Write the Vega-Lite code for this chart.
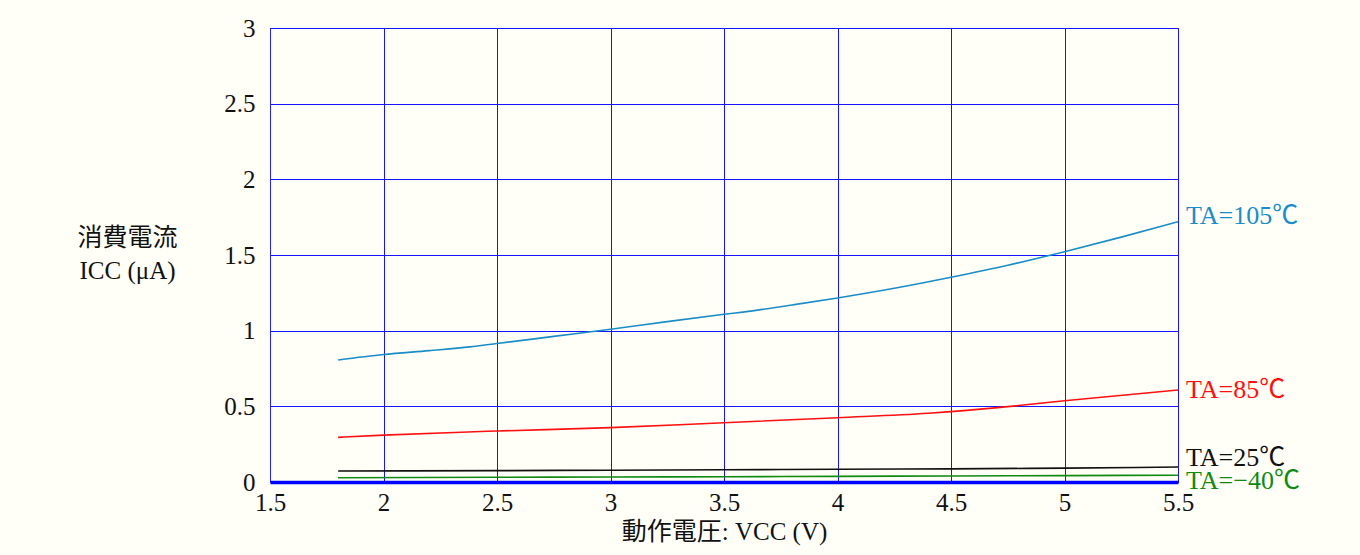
{
  "$schema": "https://vega.github.io/schema/vega-lite/v6.json",
  "width": 908,
  "height": 454,
  "autosize": {"type": "none"},
  "padding": {"left": 270, "top": 28, "right": 182, "bottom": 73},
  "background": "#FFFFF7",
  "config": {
    "font": "Liberation Serif, 'Noto Sans CJK JP', serif",
    "view": {"stroke": "#2222FF", "strokeWidth": 1},
    "axis": {
      "labelFont": "Liberation Serif, 'Noto Sans CJK JP', serif",
      "titleFont": "Liberation Serif, 'Noto Sans CJK JP', serif",
      "labelFontSize": 25,
      "titleFontSize": 25,
      "labelColor": "#111111",
      "titleColor": "#111111",
      "titleFontWeight": "normal",
      "ticks": false,
      "gridColor": "#1515FF",
      "gridWidth": 1,
      "gridOpacity": 1
    }
  },
  "datasets": {
    "curves": [
      {"series": "TA=105℃", "v": 1.8, "i": 0.806},
      {"series": "TA=105℃", "v": 2.0, "i": 0.842},
      {"series": "TA=105℃", "v": 2.2, "i": 0.868},
      {"series": "TA=105℃", "v": 2.38, "i": 0.893},
      {"series": "TA=105℃", "v": 2.5, "i": 0.915},
      {"series": "TA=105℃", "v": 2.75, "i": 0.962},
      {"series": "TA=105℃", "v": 3.0, "i": 1.009},
      {"series": "TA=105℃", "v": 3.25, "i": 1.06},
      {"series": "TA=105℃", "v": 3.5, "i": 1.108},
      {"series": "TA=105℃", "v": 3.6, "i": 1.126},
      {"series": "TA=105℃", "v": 3.8, "i": 1.17},
      {"series": "TA=105℃", "v": 4.0, "i": 1.216},
      {"series": "TA=105℃", "v": 4.25, "i": 1.28},
      {"series": "TA=105℃", "v": 4.5, "i": 1.353},
      {"series": "TA=105℃", "v": 4.75, "i": 1.432},
      {"series": "TA=105℃", "v": 5.0, "i": 1.522},
      {"series": "TA=105℃", "v": 5.25, "i": 1.618},
      {"series": "TA=105℃", "v": 5.5, "i": 1.72},
      {"series": "TA=85℃", "v": 1.8, "i": 0.295},
      {"series": "TA=85℃", "v": 2.0, "i": 0.31},
      {"series": "TA=85℃", "v": 2.4, "i": 0.332},
      {"series": "TA=85℃", "v": 2.5, "i": 0.337},
      {"series": "TA=85℃", "v": 3.0, "i": 0.359},
      {"series": "TA=85℃", "v": 3.5, "i": 0.392},
      {"series": "TA=85℃", "v": 4.0, "i": 0.425},
      {"series": "TA=85℃", "v": 4.4, "i": 0.454},
      {"series": "TA=85℃", "v": 4.5, "i": 0.465},
      {"series": "TA=85℃", "v": 4.75, "i": 0.498},
      {"series": "TA=85℃", "v": 5.0, "i": 0.537},
      {"series": "TA=85℃", "v": 5.5, "i": 0.608},
      {"series": "TA=25℃", "v": 1.8, "i": 0.073},
      {"series": "TA=25℃", "v": 2.5, "i": 0.075},
      {"series": "TA=25℃", "v": 3.0, "i": 0.078},
      {"series": "TA=25℃", "v": 3.5, "i": 0.081},
      {"series": "TA=25℃", "v": 4.0, "i": 0.084},
      {"series": "TA=25℃", "v": 4.5, "i": 0.087},
      {"series": "TA=25℃", "v": 5.0, "i": 0.092},
      {"series": "TA=25℃", "v": 5.5, "i": 0.099},
      {"series": "TA=−40℃", "v": 1.8, "i": 0.028},
      {"series": "TA=−40℃", "v": 2.5, "i": 0.031},
      {"series": "TA=−40℃", "v": 3.0, "i": 0.033},
      {"series": "TA=−40℃", "v": 3.5, "i": 0.035},
      {"series": "TA=−40℃", "v": 4.0, "i": 0.037},
      {"series": "TA=−40℃", "v": 4.5, "i": 0.040},
      {"series": "TA=−40℃", "v": 5.0, "i": 0.042},
      {"series": "TA=−40℃", "v": 5.5, "i": 0.045}
    ],
    "labels": [
      {"series": "TA=105℃", "v": 5.5, "i": 1.758},
      {"series": "TA=85℃", "v": 5.5, "i": 0.608},
      {"series": "TA=25℃", "v": 5.5, "i": 0.159},
      {"series": "TA=−40℃", "v": 5.5, "i": 0.007}
    ]
  },
  "layer": [
    {
      "data": {"name": "curves"},
      "mark": {"type": "line", "strokeWidth": 1.6, "clip": true, "interpolate": "monotone"},
      "encoding": {
        "x": {
          "field": "v", "type": "quantitative",
          "scale": {"domain": [1.5, 5.5], "nice": false, "zero": false},
          "axis": {
            "values": [1.5, 2, 2.5, 3, 3.5, 4, 4.5, 5, 5.5],
            "labelExpr": "datum.value",
            "domainColor": "#0000FF",
            "domainWidth": 3.5,
            "labelPadding": 8,
            "labelFlush": false,
            "title": "動作電圧: VCC (V)",
            "titleBaseline": "middle",
            "titleY": 49,
            "titleX": 454,
            "titleAlign": "center"
          }
        },
        "y": {
          "field": "i", "type": "quantitative",
          "scale": {"domain": [0, 3], "nice": false},
          "axis": {
            "values": [0, 0.5, 1, 1.5, 2, 2.5, 3],
            "labelExpr": "datum.value",
            "domainColor": "#2222FF",
            "domainWidth": 1,
            "labelPadding": 15,
            "labelFlush": false,
            "title": ["消費電流", "ICC (μA)"],
            "titleAngle": 0,
            "titleAlign": "center",
            "titleBaseline": "top",
            "titleX": -143,
            "titleY": 197,
            "titleLineHeight": 33
          }
        },
        "color": {
          "field": "series", "type": "nominal",
          "scale": {
            "domain": ["TA=105℃", "TA=85℃", "TA=25℃", "TA=−40℃"],
            "range": ["#1A8CC8", "#FF1010", "#111111", "#108A10"]
          },
          "legend": null
        },
        "detail": {"field": "series"}
      }
    },
    {
      "data": {"name": "labels"},
      "mark": {"type": "text", "align": "left", "baseline": "middle", "dx": 8, "fontSize": 26, "clip": false},
      "encoding": {
        "x": {"field": "v", "type": "quantitative"},
        "y": {"field": "i", "type": "quantitative"},
        "text": {"field": "series"},
        "color": {"field": "series", "type": "nominal", "legend": null}
      }
    }
  ]
}
